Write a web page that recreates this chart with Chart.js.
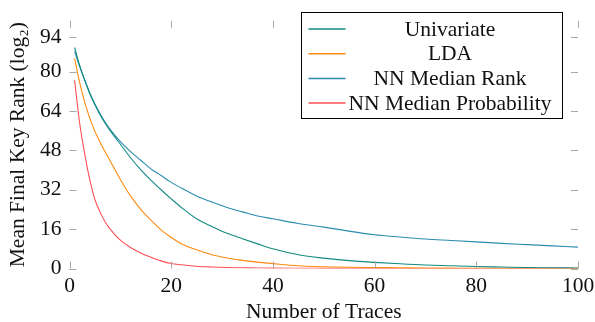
<!DOCTYPE html>
<html>
<head>
<meta charset="utf-8">
<script src="https://cdn.jsdelivr.net/npm/chart.js@4"></script>
<style>
  html, body { margin: 0; padding: 0; background: #fff; }
  #wrap { width: 595px; height: 322px; }
</style>
</head>
<body>
<div id="wrap"><canvas id="rankChart" width="595" height="322"></canvas></div>
<script>
// values
const traces = [1, 2, 3, 4, 5, 6, 7, 8, 10, 12, 14, 16, 18, 20, 22, 25, 28, 31, 34, 37, 40,
  45, 50, 55, 60, 65, 70, 75, 80, 85, 90, 95, 100];

const univariate = [89.8, 82.5, 76.5, 71, 66.5, 62.5, 59, 56, 50.5, 45, 40.2, 35.9, 32, 28.3,
  24.8, 20.2, 17.1, 14.3, 12.1, 10, 8, 5.6, 4.2, 3.2, 2.5, 1.9, 1.4, 1.1, 0.8, 0.6, 0.4, 0.3, 0.2];

const lda = [85.4, 75.5, 67.5, 61, 55.7, 51.3, 47.4, 43.7, 36.2, 29.5, 24, 19.7, 15.7, 12.6, 10.1,
  7.6, 5.6, 4.3, 3.3, 2.6, 2.0, 1.1, 0.7, 0.5, 0.4, 0.3, 0.2, 0.15, 0.1, 0.1, 0.1, 0.1, 0.1];

const nnRank = [88.2, 82, 76.5, 71.3, 66.8, 63, 59.5, 56.5, 51.5, 47.5, 44, 40.5, 37.8, 35,
  32.7, 29.5, 27, 24.8, 23, 21.3, 20.2, 18.3, 16.8, 15.2, 13.7, 12.8, 12, 11.4, 10.8, 10.2, 9.7, 9.2, 8.7];

const nnProb = [76.5, 59, 46.5, 36, 28, 23, 19, 16, 11.5, 8.5, 6.3, 4.6, 3.1, 2.0, 1.5, 0.9,
  0.6, 0.4, 0.3, 0.2, 0.15, 0.1, 0.05, 0.05, 0.05, 0, 0, 0, 0, 0, 0, 0, 0];

const seriesNames = ["Univariate", "LDA", "NN Median Rank", "NN Median Probability"];
const seriesColors = ["#128a82", "#ff8a10", "#2a8cae", "#ff4f55"];

const xTicks = [0, 20, 40, 60, 80, 100];
const yTicks = [0, 16, 32, 48, 64, 80, 94];

const serif = "'Liberation Serif', 'DejaVu Serif', serif";
const fontSize = 21.5;

function points(ys) {
  return traces.map((t, i) => ({ x: t, y: ys[i] }));
}

// pgfplots style inward tick marks on all four sides
const innerTicks = {
  id: "innerTicks",
  afterDraw(chart) {
    const { ctx, chartArea: a } = chart;
    const xs = chart.scales.x, ys = chart.scales.y;
    const len = 7;
    ctx.save();
    ctx.strokeStyle = "#a8a8a8";
    ctx.lineWidth = 1;
    ctx.beginPath();
    xTicks.forEach(v => {
      const px = Math.round(xs.getPixelForValue(v)) + 0.5;
      ctx.moveTo(px, a.bottom); ctx.lineTo(px, a.bottom - len);
      ctx.moveTo(px, a.top); ctx.lineTo(px, a.top + len);
    });
    yTicks.forEach(v => {
      const py = Math.round(ys.getPixelForValue(v)) + 0.5;
      ctx.moveTo(a.left, py); ctx.lineTo(a.left + len, py);
      ctx.moveTo(a.right, py); ctx.lineTo(a.right - len, py);
    });
    ctx.stroke();
    ctx.restore();
  }
};

// legend box in the upper right, like the pgfplots one
const boxLegend = {
  id: "boxLegend",
  afterDraw(chart) {
    const { ctx } = chart;
    const bx = 301.5, by = 12.5, bw = 261, bh = 106;
    ctx.save();
    ctx.fillStyle = "#fff";
    ctx.fillRect(bx, by, bw, bh);
    ctx.strokeStyle = "#000";
    ctx.lineWidth = 1;
    ctx.strokeRect(bx, by, bw, bh);
    ctx.font = fontSize + "px " + serif;
    ctx.textAlign = "center";
    ctx.textBaseline = "middle";
    chart.data.datasets.forEach((ds, i) => {
      const y = by + 16.5 + i * 24.7;
      ctx.strokeStyle = ds.borderColor;
      ctx.lineWidth = 1.5;
      ctx.beginPath();
      ctx.moveTo(bx + 7, y);
      ctx.lineTo(bx + 44, y);
      ctx.stroke();
      ctx.fillStyle = "#111";
      ctx.fillText(ds.label, 450, y + 1);
    });
    ctx.restore();
  }
};

const ctx = document.getElementById("rankChart").getContext("2d");
new Chart(ctx, {
  type: "line",
  data: {
    datasets: [univariate, lda, nnRank, nnProb].map((ys, i) => ({
      label: seriesNames[i],
      data: points(ys),
      borderColor: seriesColors[i],
      backgroundColor: seriesColors[i],
      borderWidth: 1.1,
      pointRadius: 0,
      cubicInterpolationMode: "monotone",
      fill: false,
    })),
  },
  options: {
    responsive: false,
    animation: false,
    layout: { padding: { top: 5, right: 17, left: 0, bottom: 0 } },
    plugins: {
      legend: { display: false },
      tooltip: { enabled: false },
    },
    scales: {
      x: {
        type: "linear",
        min: 0,
        max: 100,
        grid: { display: false, drawTicks: false },
        border: { display: false },
        afterBuildTicks: s => { s.ticks = xTicks.map(v => ({ value: v })); },
        afterFit: s => { s.height = 53.5; s.paddingLeft = 0; s.paddingRight = 0; },
        ticks: { color: "#111", padding: 5, font: { family: serif, size: fontSize }, maxRotation: 0 },
        title: {
          display: true,
          text: "Number of Traces",
          color: "#111",
          font: { family: serif, size: fontSize },
          padding: { top: 0, bottom: -3 },
        },
      },
      y: {
        min: 0,
        max: 100.6,
        grid: { display: false, drawTicks: false },
        border: { display: false },
        afterBuildTicks: s => { s.ticks = yTicks.map(v => ({ value: v })); },
        afterFit: s => { s.width = 69.5; },
        ticks: { color: "#111", padding: 8, font: { family: serif, size: fontSize } },
        title: {
          display: true,
          text: "Mean Final Key Rank (log₂)",
          color: "#111",
          font: { family: serif, size: fontSize },
          padding: { top: 5, bottom: 0 },
        },
      },
    },
  },
  plugins: [innerTicks, boxLegend],
});
</script>
</body>
</html>
